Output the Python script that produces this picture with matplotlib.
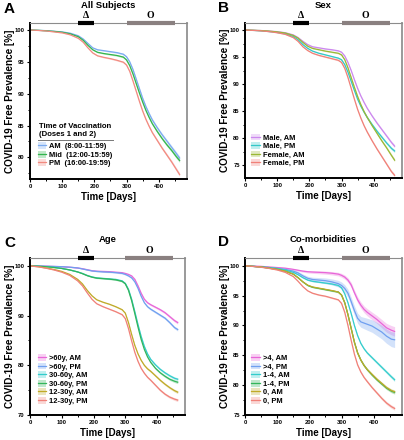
import matplotlib
matplotlib.use("Agg")
import matplotlib.pyplot as plt
from matplotlib.patches import Patch
from matplotlib.lines import Line2D
from matplotlib.ticker import MultipleLocator

plt.rcParams['font.family'] = ['Liberation Sans', 'DejaVu Sans']
plt.rcParams['font.weight'] = 'bold'

# shared time grid [days]
days = [0, 25, 50, 75, 100, 125, 150, 165, 180, 195, 210, 230, 250, 270, 290,
        300, 310, 320, 330, 340, 350, 360, 370, 380, 395, 410, 425, 440, 455, 465]

delta_period = [150, 200]
omicron_period = [300, 450]

# confidence half-widths (small bands)
ci_small = [0, 0, 0.02, 0.03, 0.04, 0.05, 0.06, 0.07, 0.08, 0.09, 0.1, 0.1, 0.11, 0.12, 0.13,
            0.14, 0.15, 0.16, 0.17, 0.18, 0.19, 0.2, 0.21, 0.22, 0.23, 0.24, 0.25, 0.26, 0.28, 0.3]
ci_mid = [0, 0.02, 0.04, 0.06, 0.08, 0.1, 0.13, 0.15, 0.18, 0.2, 0.22, 0.24, 0.26, 0.28, 0.3,
          0.32, 0.35, 0.38, 0.42, 0.46, 0.5, 0.53, 0.56, 0.6, 0.63, 0.66, 0.7, 0.74, 0.78, 0.8]
ci_wide = [0, 0.03, 0.06, 0.1, 0.13, 0.17, 0.22, 0.26, 0.3, 0.34, 0.38, 0.42, 0.46, 0.5, 0.55,
           0.58, 0.62, 0.67, 0.72, 0.78, 0.85, 0.9, 0.95, 1.0, 1.05, 1.1, 1.15, 1.2, 1.25, 1.3]

# Panel A: all subjects
a_title = "Time of Vaccination\n(Doses 1 and 2)"
a_labels = ["AM  (8:00-11:59)", "Mid  (12:00-15:59)", "PM  (16:00-19:59)"]
a_colors = ["#7aaaf0", "#33b54d", "#f28a80"]
a_am = [100, 99.95, 99.9, 99.8, 99.7, 99.5, 99.1, 98.6, 97.9, 97.2, 96.9, 96.75, 96.6, 96.45, 96.2,
        95.8, 95.0, 93.8, 92.3, 90.8, 89.3, 88.0, 86.9, 85.9, 84.7, 83.6, 82.6, 81.6, 80.6, 79.9]
a_mid = [100, 99.95, 99.88, 99.78, 99.65, 99.4, 98.95, 98.4, 97.6, 96.9, 96.5, 96.3, 96.15, 96.0, 95.75,
         95.3, 94.4, 93.1, 91.6, 90.1, 88.7, 87.4, 86.3, 85.3, 84.1, 83.0, 82.0, 81.1, 80.1, 79.5]
a_pm = [100, 99.93, 99.85, 99.7, 99.55, 99.25, 98.7, 98.1, 97.2, 96.4, 95.95, 95.7, 95.5, 95.25, 94.95,
        94.5, 93.5, 92.0, 90.4, 88.8, 87.3, 86.0, 84.9, 83.9, 82.7, 81.5, 80.4, 79.3, 78.1, 77.3]

# Panel B: sex
b_labels = ["Male, AM", "Male, PM", "Female, AM", "Female, PM"]
b_colors = ["#cc88ee", "#33c8c8", "#9ab834", "#f08078"]
b_male_am = [100, 99.95, 99.9, 99.8, 99.7, 99.5, 99.1, 98.6, 97.9, 97.3, 96.9, 96.7, 96.5, 96.35, 96.15,
             95.9, 95.2, 94.0, 92.5, 90.8, 89.2, 87.8, 86.6, 85.5, 84.1, 82.8, 81.6, 80.4, 79.2, 78.5]
b_male_pm = [100, 99.93, 99.85, 99.72, 99.55, 99.3, 98.8, 98.2, 97.3, 96.6, 96.1, 95.7, 95.4, 95.1, 94.8,
             94.5, 93.6, 92.2, 90.5, 88.8, 87.2, 85.9, 84.8, 83.8, 82.5, 81.3, 80.2, 79.1, 78.1, 77.6]
b_female_am = [100, 99.95, 99.9, 99.8, 99.65, 99.45, 99.0, 98.5, 97.7, 97.0, 96.6, 96.35, 96.1, 95.9, 95.7,
               95.4, 94.5, 93.0, 91.2, 89.4, 87.7, 86.2, 84.9, 83.8, 82.3, 80.9, 79.5, 78.2, 76.8, 75.9]
b_female_pm = [100, 99.93, 99.85, 99.7, 99.5, 99.2, 98.6, 97.9, 96.9, 96.2, 95.7, 95.3, 95.0, 94.7, 94.4,
               94.0, 92.9, 91.2, 89.2, 87.2, 85.3, 83.7, 82.3, 81.1, 79.5, 78.0, 76.6, 75.2, 73.8, 73.1]

# Panel C: age
c_labels = [">60y, AM", ">60y, PM", "30-60y, AM", "30-60y, PM", "12-30y, AM", "12-30y, PM"]
c_colors = ["#e866d8", "#6f9ff0", "#33cccc", "#33b55a", "#c0aa28", "#f08078"]
c_old_am = [100, 99.98, 99.95, 99.9, 99.85, 99.75, 99.6, 99.45, 99.25, 99.05, 98.95, 98.9, 98.85, 98.75, 98.65,
            98.5, 98.3, 98.0, 97.3, 96.0, 94.5, 93.3, 92.6, 92.2, 91.7, 91.2, 90.6, 89.8, 89.0, 88.6]
c_old_pm = [100, 99.98, 99.95, 99.9, 99.85, 99.75, 99.6, 99.4, 99.2, 99.0, 98.9, 98.8, 98.75, 98.65, 98.5,
            98.3, 98.0, 97.6, 96.8, 95.5, 93.9, 92.6, 91.8, 91.3, 90.7, 90.1, 89.5, 88.6, 87.6, 87.2]
c_mid_am = [100, 99.95, 99.85, 99.7, 99.5, 99.2, 98.8, 98.5, 98.1, 97.8, 97.6, 97.5, 97.4, 97.3, 97.0,
            96.5, 95.3, 93.3, 90.8, 88.2, 85.8, 83.8, 82.3, 81.2, 80.1, 79.2, 78.5, 77.9, 77.4, 77.2]
c_mid_pm = [100, 99.95, 99.85, 99.7, 99.5, 99.2, 98.8, 98.45, 98.05, 97.75, 97.55, 97.45, 97.35, 97.2, 96.9,
            96.4, 95.1, 93.0, 90.4, 87.7, 85.2, 83.2, 81.7, 80.6, 79.4, 78.5, 77.8, 77.2, 76.8, 76.6]
c_young_am = [100, 99.85, 99.6, 99.3, 98.9, 98.3, 97.3, 96.4, 95.1, 94.0, 93.2, 92.7, 92.3, 91.8, 91.2,
              90.5, 88.6, 86.2, 84.0, 82.3, 81.0, 80.0, 79.3, 78.8, 77.9, 77.0, 76.2, 75.5, 74.9, 74.6]
c_young_pm = [100, 99.83, 99.55, 99.2, 98.75, 98.1, 97.0, 96.0, 94.6, 93.3, 92.4, 91.8, 91.3, 90.8, 90.2,
              89.4, 87.4, 84.9, 82.6, 80.8, 79.4, 78.4, 77.6, 77.0, 76.0, 75.0, 74.2, 73.6, 73.2, 73.0]

# Panel D: co-morbidities
d_labels = [">4, AM", ">4, PM", "1-4, AM", "1-4, PM", "0, AM", "0, PM"]
d_colors = ["#e866d8", "#6f9ff0", "#33cccc", "#33b55a", "#c0aa28", "#f08078"]
d_high_am = [100, 99.95, 99.9, 99.8, 99.7, 99.6, 99.4, 99.25, 99.1, 99.0, 98.95, 98.9, 98.85, 98.75, 98.6,
             98.4, 98.1, 97.6, 96.8, 95.5, 94.3, 93.4, 92.7, 92.2, 91.6, 91.0, 90.3, 89.6, 89.2, 89.0]
d_high_pm = [100, 99.9, 99.8, 99.7, 99.55, 99.4, 99.1, 98.8, 98.3, 97.9, 97.7, 97.6, 97.5, 97.3, 97.0,
             96.7, 96.2, 95.4, 94.0, 92.5, 91.2, 90.6, 90.4, 90.2, 89.9, 89.4, 88.9, 88.2, 87.7, 87.6]
d_one_am = [100, 99.9, 99.8, 99.7, 99.55, 99.3, 98.9, 98.5, 98.0, 97.6, 97.4, 97.25, 97.1, 96.95, 96.7,
            96.3, 95.3, 93.8, 92.0, 90.0, 88.3, 87.0, 86.1, 85.4, 84.6, 83.8, 83.0, 82.2, 81.4, 80.9]
d_one_pm = [100, 99.9, 99.8, 99.6, 99.4, 99.1, 98.6, 98.0, 97.3, 96.7, 96.4, 96.2, 96.0, 95.8, 95.6,
            95.1, 93.8, 91.8, 89.5, 87.2, 85.4, 84.2, 83.3, 82.6, 81.7, 80.9, 80.2, 79.5, 79.0, 78.8]
d_zero_am = [100, 99.9, 99.8, 99.6, 99.4, 99.1, 98.6, 98.0, 97.3, 96.75, 96.45, 96.25, 96.05, 95.85, 95.6,
             95.1, 93.8, 91.8, 89.5, 87.2, 85.4, 84.2, 83.3, 82.6, 81.8, 81.0, 80.3, 79.6, 79.1, 78.9]
d_zero_pm = [100, 99.88, 99.75, 99.55, 99.3, 98.9, 98.2, 97.4, 96.5, 95.8, 95.4, 95.1, 94.9, 94.6, 94.3,
             93.7, 92.2, 90.0, 87.5, 85.2, 83.4, 82.2, 81.3, 80.6, 79.6, 78.7, 77.8, 77.0, 76.4, 76.1]

fig = plt.figure(figsize=(4.04, 4.40), dpi=100)
W, H = 404, 440


def px_axes(left, right, top, bottom):
    return fig.add_axes([left / W, 1 - bottom / H, (right - left) / W, (bottom - top) / H])


def draw_panel(ax, title, series, cis, colors, labels, ylim, ymajor, yminor, legend_pos):
    for vals, ci, c in zip(series, cis, colors):
        lo = [v - e for v, e in zip(vals, ci)]
        hi = [v + e for v, e in zip(vals, ci)]
        ax.fill_between(days, lo, hi, color=c, alpha=0.3, lw=0)
        ax.plot(days, vals, color=c, lw=0.9)
    ax.set_xlim(0, 488)
    ax.set_ylim(*ylim)
    ax.xaxis.set_major_locator(MultipleLocator(100))
    ax.xaxis.set_minor_locator(MultipleLocator(50))
    ax.yaxis.set_major_locator(MultipleLocator(ymajor))
    ax.yaxis.set_minor_locator(MultipleLocator(yminor))
    ax.tick_params(which='major', length=2.2, width=0.8, labelsize=4.2, pad=1.5, direction='out')
    ax.tick_params(which='minor', length=1.5, width=0.7, direction='out')
    for lab in ax.get_xticklabels() + ax.get_yticklabels():
        lab.set_fontweight('bold')
    for s in ('left', 'bottom'):
        ax.spines[s].set_linewidth(1.4)
        ax.spines[s].set_color('black')
    ax.spines['top'].set_linewidth(0.8)
    ax.spines['top'].set_color('#8c8c8c')
    ax.spines['right'].set_linewidth(1.4)
    ax.spines['right'].set_color('#9a9a9a')

    ytop = ylim[1]
    ax.plot(delta_period, [ytop, ytop], color='black', lw=3, solid_capstyle='butt', clip_on=False, zorder=5)
    ax.plot(omicron_period, [ytop, ytop], color='#8a8080', lw=3, solid_capstyle='butt', clip_on=False, zorder=5)
    tr = ax.get_xaxis_transform()
    ax.text(sum(delta_period) / 2, 1.05, "Δ", transform=tr, ha='center', va='center',
            fontsize=7, fontweight='bold', family='Liberation Serif')
    ax.text(sum(omicron_period) / 2, 1.05, "O", transform=tr, ha='center', va='center',
            fontsize=7, fontweight='bold', family='Liberation Serif')
    ax.text(0.5, 1.115, title, transform=ax.transAxes, ha='center', va='center',
            fontsize=6.8, fontweight='bold')
    ax.text(-0.128, 0.5, "COVID-19 Free Prevalence [%]", transform=ax.transAxes, rotation=90,
            ha='center', va='center', fontsize=7.2, fontweight='bold')
    ax.text(0.5, -0.115, "Time [Days]", transform=ax.transAxes, ha='center', va='center',
            fontsize=7, fontweight='bold')

    handles = [(Patch(facecolor=c, alpha=0.3, lw=0), Line2D([], [], color=c, lw=0.9)) for c in colors]
    leg = ax.legend(handles, labels, loc='lower left', bbox_to_anchor=legend_pos, frameon=False,
                    fontsize=5.4, handlelength=1.1, handleheight=1.0, handletextpad=0.4,
                    labelspacing=0.08, borderpad=0, borderaxespad=0)
    for t in leg.get_texts():
        t.set_fontweight('bold')
    return leg


axA = px_axes(30, 187, 23, 179)
draw_panel(axA, "All Subjects", [a_am, a_mid, a_pm], [ci_small] * 3, a_colors, a_labels,
           (76.6, 101.1), 5, 2.5, (0.05, 0.075))
axA.text(0.06, 0.265, a_title, transform=axA.transAxes, ha='left', va='bottom',
         fontsize=5.6, fontweight='bold', linespacing=1.15)
axA.plot([0.05, 0.53], [0.25, 0.25], transform=axA.transAxes, color='#777777', lw=0.7)

axB = px_axes(245, 402, 23, 178)
draw_panel(axB, "Sex", [b_male_am, b_male_pm, b_female_am, b_female_pm], [ci_small] * 4,
           b_colors, b_labels, (72.6, 101.3), 5, 2.5, (0.04, 0.07))

axC = px_axes(30, 185, 258, 415)
draw_panel(axC, "Age", [c_old_am, c_old_pm, c_mid_am, c_mid_pm, c_young_am, c_young_pm],
           [ci_small] * 6, c_colors, c_labels, (70, 101.6), 10, 5, (0.05, 0.065))

axD = px_axes(245, 402, 258, 415)
draw_panel(axD, "Co-morbidities", [d_high_am, d_high_pm, d_one_am, d_one_pm, d_zero_am, d_zero_pm],
           [ci_mid, ci_wide, ci_small, ci_small, ci_small, ci_small], d_colors, d_labels,
           (75, 101.3), 5, 2.5, (0.04, 0.065))

for letter, x, y in [("A", 9, 9), ("B", 223, 8), ("C", 10, 243), ("D", 223, 242)]:
    fig.text(x / W, 1 - y / H, letter, ha='center', va='center', fontsize=11, fontweight='bold')

fig.savefig("out.png", dpi=100)
